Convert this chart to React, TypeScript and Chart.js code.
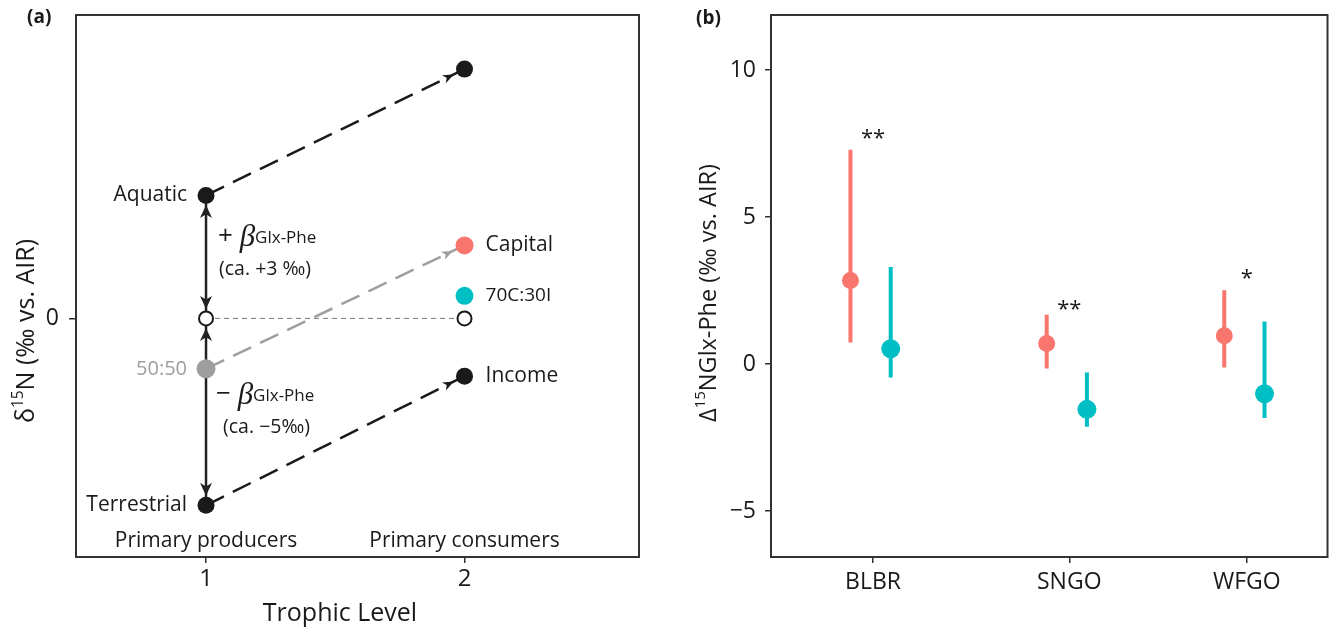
import React, { useEffect, useRef } from 'react';
import { Chart, registerables } from 'chart.js';

Chart.register(...registerables);

const FONT = "'Open Sans', sans-serif";
const SERIF = "'Liberation Serif', 'DejaVu Serif', serif";
const INK = '#1a1a1a';
const RED = '#F8766D';
const CYAN = '#00BFC4';
const GREY = '#9e9e9e';

// ---------- Panel (a): conceptual diagram ----------
const trophicTicks = [1, 2];
const trophicNames = ['Primary producers', 'Primary consumers'];
const sourceNames = ['Aquatic', 'Terrestrial'];
const sourceY = [3.0, -4.56];
const aquaticConsumerY = 6.08;
const mixName = '50:50';
const mixY = -1.23;
const baselineY = 0;
const consumerNames = ['Capital', '70C:30I', 'Income'];
const consumerY = [1.78, 0.55, -1.41];
const yTicksA = [0];

// ---------- Panel (b): estimates ----------
const species = ['BLBR', 'SNGO', 'WFGO'];
const speciesX = [1, 2, 2.905];
const capitalMean = [2.84, 0.7, 0.96];
const capitalLo = [0.73, -0.15, -0.12];
const capitalHi = [7.29, 1.68, 2.51];
const mixMean = [0.52, -1.54, -1.01];
const mixLo = [-0.46, -2.13, -1.83];
const mixHi = [3.3, -0.29, 1.45];
const significance = ['**', '**', '*'];
const significanceY = [7.88, 2.09, 3.13];
const yTicksB = [-5, 0, 5, 10];
const capitalDodge = -0.115;
const mixDodge = 0.09;

type Run = { t: string; font: string; dy?: number; color?: string };

function drawRuns(ctx: CanvasRenderingContext2D, runs: Run[], x: number, y: number, align: 'left' | 'right' | 'center') {
  ctx.save();
  ctx.textBaseline = 'middle';
  ctx.textAlign = 'left';
  let total = 0;
  const widths = runs.map((r) => {
    ctx.font = r.font;
    const w = ctx.measureText(r.t).width;
    total += w;
    return w;
  });
  let cx = align === 'left' ? x : align === 'right' ? x - total : x - total / 2;
  runs.forEach((r, i) => {
    ctx.font = r.font;
    ctx.fillStyle = r.color || INK;
    ctx.fillText(r.t, cx, y + (r.dy || 0));
    cx += widths[i];
  });
  ctx.restore();
}

function drawHead(ctx: CanvasRenderingContext2D, tx: number, ty: number, ux: number, uy: number, len: number, hw: number, color: string) {
  const px = -uy, py = ux;
  ctx.save();
  ctx.fillStyle = color;
  ctx.beginPath();
  ctx.moveTo(tx, ty);
  ctx.lineTo(tx - ux * len + px * hw, ty - uy * len + py * hw);
  ctx.lineTo(tx - ux * len * 0.72, ty - uy * len * 0.72);
  ctx.lineTo(tx - ux * len - px * hw, ty - uy * len - py * hw);
  ctx.closePath();
  ctx.fill();
  ctx.restore();
}

const pt = (x: number, y: number) => ({ x, y });

function lineDs(data: any[], color: string, width: number, dash: number[], order: number) {
  return { data, showLine: true, borderColor: color, borderWidth: width, borderDash: dash, pointRadius: 0, order, fill: false, tension: 0 };
}
function pointDs(data: any[], color: string, r: number, order = 0) {
  return { data, showLine: false, pointRadius: r, pointBackgroundColor: color, pointBorderWidth: 0, pointBorderColor: color, order };
}

const fitY = (w: number) => (s: any) => { s.width = w; s.paddingTop = 0; s.paddingBottom = 0; };
const fitX = (h: number) => (s: any) => { s.height = h; s.paddingLeft = 0; s.paddingRight = 0; };

function configA(): any {
  const [aqY, terY] = sourceY;
  const arrows = [
    { a: pt(1, aqY), b: pt(2, aquaticConsumerY), color: INK, both: false, gap: 12, len: 11, hw: 4.5 },
    { a: pt(1, terY), b: pt(2, consumerY[2]), color: INK, both: false, gap: 12, len: 11, hw: 4.5 },
    { a: pt(1, mixY), b: pt(2, consumerY[0]), color: GREY, both: false, gap: 13, len: 11, hw: 4.5 },
    { a: pt(1, aqY), b: pt(1, baselineY), color: '#222', both: true, gap: 9.5, len: 13, hw: 6 },
    { a: pt(1, baselineY), b: pt(1, terY), color: '#222', both: true, gap: 9.5, len: 13, hw: 6 },
  ];
  const plugin = {
    id: 'annotA',
    afterDatasetsDraw(chart: any) {
      const ctx = chart.ctx as CanvasRenderingContext2D;
      const xs = chart.scales.x, ys = chart.scales.y;
      const P = (p: { x: number; y: number }) => ({ x: xs.getPixelForValue(p.x), y: ys.getPixelForValue(p.y) });
      arrows.forEach((ar) => {
        const A = P(ar.a), B = P(ar.b);
        const dx = B.x - A.x, dy = B.y - A.y;
        const L = Math.hypot(dx, dy);
        const ux = dx / L, uy = dy / L;
        drawHead(ctx, B.x - ux * ar.gap, B.y - uy * ar.gap, ux, uy, ar.len, ar.hw, ar.color);
        if (ar.both) drawHead(ctx, A.x + ux * ar.gap, A.y + uy * ar.gap, -ux, -uy, ar.len, ar.hw, ar.color);
      });
      const f = (s: number, w = 'normal') => `${w} ${s}px ${FONT}`;
      sourceNames.forEach((n, i) => {
        const p = P(pt(1, sourceY[i]));
        drawRuns(ctx, [{ t: n, font: f(21) }], p.x - 19, p.y, 'right');
      });
      const pm = P(pt(1, mixY));
      drawRuns(ctx, [{ t: mixName, font: f(20), color: GREY }], pm.x - 19, pm.y, 'right');
      consumerNames.forEach((n, i) => {
        const p = P(pt(2, consumerY[i]));
        drawRuns(ctx, [{ t: n, font: f(i === 1 ? 19 : 21) }], p.x + 21, p.y, 'left');
      });
      const p0 = P(pt(1, baselineY));
      const pa = P(pt(1, sourceY[0]));
      const pt2 = P(pt(1, sourceY[1]));
      const mUp = (pa.y + p0.y) / 2;
      const mDn = (p0.y + pt2.y) / 2;
      drawRuns(ctx, [
        { t: '+ ', font: f(26) },
        { t: 'β', font: `italic 31px ${SERIF}`, dy: 1 },
        { t: 'Glx-Phe', font: f(17), dy: 1 },
      ], p0.x + 12, mUp - 20, 'left');
      drawRuns(ctx, [{ t: '(ca. +3 ‰)', font: f(19.5) }], p0.x + 13, mUp + 13, 'left');
      drawRuns(ctx, [
        { t: '− ', font: f(26) },
        { t: 'β', font: `italic 31px ${SERIF}`, dy: 1 },
        { t: 'Glx-Phe', font: f(17), dy: 1 },
      ], p0.x + 10, mDn - 17, 'left');
      drawRuns(ctx, [{ t: '(ca. −5‰)', font: f(19.5) }], p0.x + 17, mDn + 16, 'left');
      const ca = chart.chartArea;
      trophicTicks.forEach((v, i) => {
        drawRuns(ctx, [{ t: trophicNames[i], font: f(21) }], xs.getPixelForValue(v), ca.bottom - 16, 'center');
      });
      ctx.save();
      ctx.strokeStyle = '#333';
      ctx.lineWidth = 2;
      ctx.strokeRect(ca.left, ca.top, ca.right - ca.left, ca.bottom - ca.top);
      ctx.restore();
      drawRuns(ctx, [{ t: 'Trophic Level', font: f(25) }], 340, 614, 'center');
      ctx.save();
      ctx.translate(27, 331);
      ctx.rotate(-Math.PI / 2);
      drawRuns(ctx, [
        { t: 'δ', font: f(25) },
        { t: '15', font: f(15.5), dy: -8 },
        { t: 'N (‰ vs. AIR)', font: f(25) },
      ], 0, 0, 'center');
      ctx.restore();
      drawRuns(ctx, [{ t: '(a)', font: f(19, 'bold') }], 27, 18, 'left');
    },
  };
  return {
    type: 'scatter',
    data: {
      datasets: [
        lineDs([pt(1, baselineY), pt(2, baselineY)], '#777', 1, [5, 4], 20),
        lineDs([pt(1, aqY), pt(2, aquaticConsumerY)], INK, 2.5, [20, 10], 10),
        lineDs([pt(1, terY), pt(2, consumerY[2])], INK, 2.5, [20, 10], 10),
        lineDs([pt(1, mixY), pt(2, consumerY[0])], GREY, 2.5, [20, 10], 10),
        lineDs([pt(1, aqY), pt(1, baselineY)], '#222', 2.5, [], 10),
        lineDs([pt(1, baselineY), pt(1, terY)], '#222', 2.5, [], 10),
        pointDs([pt(1, aqY), pt(1, terY), pt(2, aquaticConsumerY), pt(2, consumerY[2])], INK, 8.5),
        pointDs([pt(1, mixY)], GREY, 9.5),
        { data: [pt(1, baselineY), pt(2, baselineY)], showLine: false, pointRadius: 7, pointBackgroundColor: '#fff', pointBorderColor: INK, pointBorderWidth: 2, order: 0 },
        pointDs([pt(2, consumerY[0])], RED, 9),
        pointDs([pt(2, consumerY[1])], CYAN, 9),
      ],
    },
    options: {
      responsive: false,
      animation: false,
      events: [],
      layout: { padding: { top: 15, right: 21, left: 0, bottom: 0 } },
      plugins: { legend: { display: false }, tooltip: { enabled: false } },
      scales: {
        x: {
          type: 'linear', min: 0.497, max: 2.675,
          afterBuildTicks: (s: any) => { s.ticks = trophicTicks.map((v) => ({ value: v })); },
          afterFit: fitX(76),
          grid: { drawOnChartArea: false, drawTicks: true, tickLength: 6, color: '#333', lineWidth: 1.5 },
          border: { display: false },
          ticks: { font: { family: FONT, size: 24 }, color: INK, padding: 2, autoSkip: false, maxRotation: 0 },
        },
        y: {
          type: 'linear', min: -5.82, max: 7.4,
          afterBuildTicks: (s: any) => { s.ticks = yTicksA.map((v) => ({ value: v })); },
          afterFit: fitY(76),
          grid: { drawOnChartArea: false, drawTicks: true, tickLength: 7, color: '#333', lineWidth: 1.5 },
          border: { display: false },
          ticks: { font: { family: FONT, size: 23 }, color: INK, padding: 10 },
        },
      },
    },
    plugins: [plugin],
  };
}

function configB(): any {
  const bars = (lo: number[], hi: number[], dodge: number) => {
    const out: any[] = [];
    speciesX.forEach((x, i) => {
      out.push(pt(x + dodge, lo[i]), pt(x + dodge, hi[i]), { x: x + dodge, y: null });
    });
    return out;
  };
  const plugin = {
    id: 'annotB',
    afterDatasetsDraw(chart: any) {
      const ctx = chart.ctx as CanvasRenderingContext2D;
      const xs = chart.scales.x, ys = chart.scales.y;
      const ca = chart.chartArea;
      ctx.save();
      ctx.fillStyle = INK;
      ctx.font = `22px ${FONT}`;
      ctx.textAlign = 'center';
      ctx.textBaseline = 'alphabetic';
      significance.forEach((s, i) => {
        ctx.fillText(s, xs.getPixelForValue(speciesX[i]), ys.getPixelForValue(significanceY[i]) + 13);
      });
      ctx.strokeStyle = '#333';
      ctx.lineWidth = 2;
      ctx.strokeRect(ca.left, ca.top, ca.right - ca.left, ca.bottom - ca.top);
      ctx.restore();
      ctx.save();
      ctx.translate(49, 293);
      ctx.rotate(-Math.PI / 2);
      drawRuns(ctx, [
        { t: 'Δ', font: `23.5px ${FONT}` },
        { t: '15', font: `15px ${FONT}`, dy: -8 },
        { t: 'NGlx-Phe (‰ vs. AIR)', font: `23.5px ${FONT}` },
      ], 0, 0, 'center');
      ctx.restore();
      drawRuns(ctx, [{ t: '(b)', font: `bold 19px ${FONT}` }], 36, 19, 'left');
    },
  };
  return {
    type: 'scatter',
    data: {
      datasets: [
        lineDs(bars(capitalLo, capitalHi, capitalDodge), RED, 4, [], 10),
        lineDs(bars(mixLo, mixHi, mixDodge), CYAN, 4, [], 10),
        pointDs(speciesX.map((x, i) => pt(x + capitalDodge, capitalMean[i])), RED, 8.5),
        pointDs(speciesX.map((x, i) => pt(x + mixDodge, mixMean[i])), CYAN, 9.5),
      ],
    },
    options: {
      responsive: false,
      animation: false,
      events: [],
      spanGaps: false,
      layout: { padding: { top: 15, right: 3, left: 0, bottom: 0 } },
      plugins: { legend: { display: false }, tooltip: { enabled: false } },
      scales: {
        x: {
          type: 'linear', min: 0.48, max: 3.316,
          afterBuildTicks: (s: any) => { s.ticks = speciesX.map((v) => ({ value: v })); },
          afterFit: fitX(76),
          grid: { drawOnChartArea: false, drawTicks: true, tickLength: 6, color: '#333', lineWidth: 1.5 },
          border: { display: false },
          ticks: {
            font: { family: FONT, size: 23 }, color: INK, padding: 6, autoSkip: false, maxRotation: 0,
            callback: (_v: any, i: number) => species[i],
          },
        },
        y: {
          type: 'linear', min: -6.56, max: 11.87,
          afterBuildTicks: (s: any) => { s.ticks = yTicksB.map((v) => ({ value: v })); },
          afterFit: fitY(111),
          grid: { drawOnChartArea: false, drawTicks: true, tickLength: 6, color: '#333', lineWidth: 1.5 },
          border: { display: false },
          ticks: {
            font: { family: FONT, size: 23 }, color: INK, padding: 9,
            callback: (v: number) => (v < 0 ? '−' + Math.abs(v) : String(v)),
          },
        },
      },
    },
    plugins: [plugin],
  };
}

export default function App() {
  const refA = useRef<HTMLCanvasElement>(null);
  const refB = useRef<HTMLCanvasElement>(null);
  useEffect(() => {
    const a = new Chart(refA.current as HTMLCanvasElement, configA());
    const b = new Chart(refB.current as HTMLCanvasElement, configB());
    return () => {
      a.destroy();
      b.destroy();
    };
  }, []);
  return (
    <div style={{ position: 'fixed', left: 0, top: 0, width: 1337, height: 633, background: '#fff' }}>
      <canvas ref={refA} width={660} height={633} style={{ position: 'absolute', left: 0, top: 0, width: 660, height: 633 }} />
      <canvas ref={refB} width={677} height={633} style={{ position: 'absolute', left: 660, top: 0, width: 677, height: 633 }} />
    </div>
  );
}
